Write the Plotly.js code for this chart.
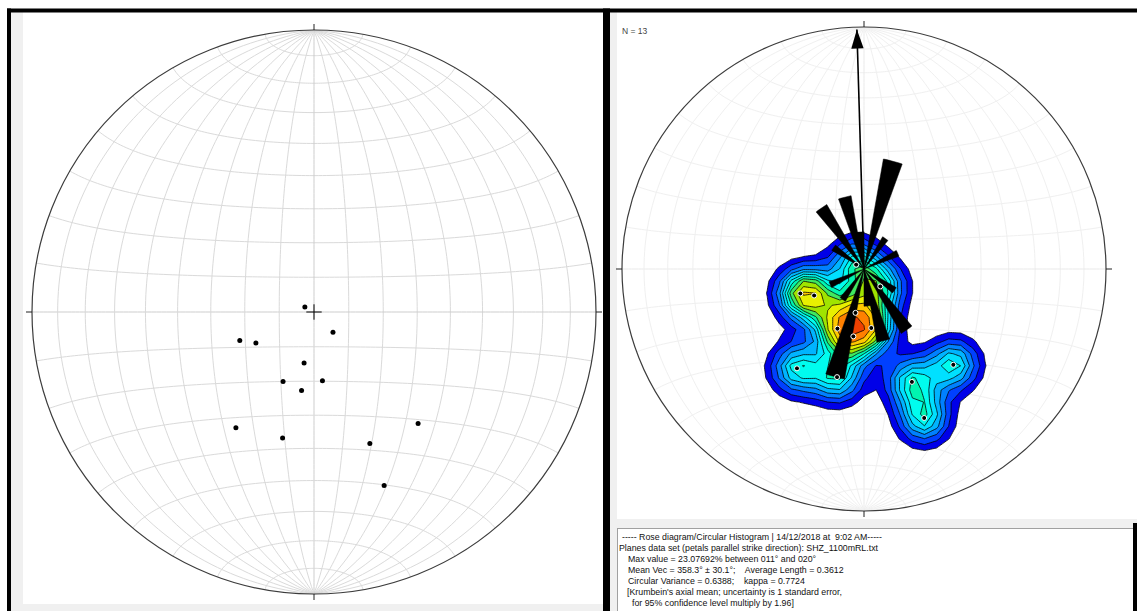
<!DOCTYPE html>
<html><head><meta charset="utf-8">
<script src="https://cdn.plot.ly/plotly-3.0.1.min.js"></script>
<style>html,body{margin:0;padding:0;background:#fff;overflow:hidden}#chart{width:1137px;height:611px}</style>
</head><body><div id="chart"></div>
<script>
// ---------------- data ----------------
// poles to planes (trend, plunge in degrees), lower hemisphere
const poleTrend  = [299, 137, 249, 242, 191, 204, 173, 189, 214, 194, 137, 157, 158];
const polePlunge = [ 87,  82,  67,  71,  75,  68,  70,  67,  49,  52,  45,  48,  34];
// rose diagram (axial, 10 degree bins; each bin mirrored at +180)
const roseBinStart = [10, 30, 60, 120, 140, 160, 170];
const roseCount    = [ 3,  1,  1,   1,   2,   2,   1];
const roseBinWidth = 10;
const roseOuterPct = 50;          // primitive circle = 50 %
const meanVecAzimuth = 358.3;
const nData = 13;
// density contour levels (kernel-sum units)
const densityLevels = [0.16, 0.32, 0.48, 0.64, 0.78, 0.92, 1.04, 1.18, 1.34, 1.52, 1.75, 2.10, 2.50];
const infoLines = [
  "----- Rose diagram/Circular Histogram | 14/12/2018 at \u00a09:02 AM-----",
  "Planes data set (petals parallel strike direction): SHZ_1100mRL.txt",
  "Max value = 23.07692% between 011\u00b0 and 020\u00b0",
  "Mean Vec = 358.3\u00b0 \u00b1 30.1\u00b0;\u00a0\u00a0\u00a0 Average Length = 0.3612",
  "Circular Variance = 0.6388;\u00a0\u00a0\u00a0 kappa = 0.7724",
  "[Krumbein's axial mean; uncertainty is 1 standard error,",
  "for 95% confidence level multiply by 1.96]"
];

// ---------------- geometry helpers ----------------
const W = 1137, H = 611;
const D2R = Math.PI / 180;
function projVec(e, n, d) { const k = 1 / Math.sqrt(1 + d); return [e * k, n * k]; } // equal-area, lower hemisphere
function projLine(tr, pl) {
  const t = tr * D2R, p = pl * D2R;
  return projVec(Math.sin(t) * Math.cos(p), Math.cos(t) * Math.cos(p), Math.sin(p));
}
function netCurves() {
  const out = [], N = 120;
  for (let a = 10; a < 180; a += 10) {
    const ca = Math.cos(a * D2R), sa = Math.sin(a * D2R);
    const gc = [], sc = [];
    for (let i = 0; i <= N; i++) {
      const t = Math.PI * i / N, ct = Math.cos(t), st = Math.sin(t);
      gc.push(projVec(st * ca, ct, st * sa));
      sc.push(projVec(sa * ct, ca, sa * st));
    }
    out.push({ pts: gc, main: a === 90 }, { pts: sc, main: a === 90 });
  }
  return out;
}
function pathOf(pts) { return 'M' + pts.map(p => p[0].toFixed(5) + ',' + p[1].toFixed(5)).join('L'); }

// panel geometry (pixel centre and radius of each primitive circle)
const L = { cx: 314, cy: 312, R: 282 };
const Rt = { cx: 864, cy: 269, R: 242 };
function rangesFor(p) {
  return { x: [(0 - p.cx) / p.R, (W - p.cx) / p.R], y: [(p.cy - H) / p.R, p.cy / p.R] };
}
const rl = rangesFor(L), rr = rangesFor(Rt);

const shapes = [];
const curves = netCurves();
curves.forEach(c => {
  shapes.push({ type: 'path', xref: 'x', yref: 'y', path: pathOf(c.pts), layer: 'below',
    line: { color: c.main ? '#cdcdcd' : '#dadada', width: 1 } });
  shapes.push({ type: 'path', xref: 'x2', yref: 'y2', path: pathOf(c.pts), layer: 'below',
    line: { color: c.main ? '#e9e9e9' : '#f0f0f0', width: 1 } });
});
[['x', 'y', L], ['x2', 'y2', Rt]].forEach(([xr, yr, p]) => {
  shapes.push({ type: 'circle', xref: xr, yref: yr, x0: -1, x1: 1, y0: -1, y1: 1,
    line: { color: '#3c3c3c', width: 1.2 } });
  const tl = 6 / p.R;
  [[0, 1], [1, 0], [0, -1], [-1, 0]].forEach(([dx, dy]) => {
    shapes.push({ type: 'line', xref: xr, yref: yr, x0: dx, y0: dy, x1: dx * (1 + tl), y1: dy * (1 + tl),
      line: { color: '#222', width: 1 } });
  });
});
// window frame
function rectPx(x0, y0, x1, y1, color, layer) {
  shapes.push({ type: 'rect', xref: 'paper', yref: 'paper', x0: x0 / W, x1: x1 / W, y0: 1 - y1 / H, y1: 1 - y0 / H,
    fillcolor: color, line: { width: 0 }, layer: layer || 'above' });
}
rectPx(11, 12, 23, 611, '#f0f0f0', 'below');
rectPx(11, 604, 603, 611, '#f0f0f0', 'below');
rectPx(610, 12, 617, 611, '#f0f0f0', 'below');
rectPx(617, 519, 1137, 528, '#f0f0f0', 'below');
rectPx(617, 528, 1133, 611, '#ffffff', 'above');
rectPx(617, 528, 1133, 529, '#a0a0a0', 'above');
rectPx(617, 528, 618, 611, '#a0a0a0', 'above');
rectPx(7, 8.5, 1137, 12.5, '#000000', 'above');
rectPx(7, 8.5, 11, 611, '#000000', 'above');
rectPx(603, 8.5, 610, 611, '#000000', 'above');
rectPx(1133, 523, 1137, 611, '#000000', 'above');

// ---------------- traces ----------------
const P = poleTrend.map((t, i) => projLine(t, polePlunge[i]));
const px = P.map(p => p[0]), py = P.map(p => p[1]);

// density grid (gaussian kernel in the projection plane), mapped to level index
const sig = 17 / Rt.R, nG = 41;
function levelIndex(s) {
  const lv = densityLevels;
  if (s <= lv[0]) return -1.5 + 1.5 * s / lv[0];
  for (let k = 1; k < lv.length; k++) {
    if (s <= lv[k]) return (k - 1) + (s - lv[k - 1]) / (lv[k] - lv[k - 1]);
  }
  const n = lv.length;
  return (n - 1) + (s - lv[n - 1]) / (lv[n - 1] - lv[n - 2]);
}
const gx = [], gy = [];
for (let i = 0; i < nG; i++) { gx.push(-1 + 2 * i / (nG - 1)); gy.push(-1 + 2 * i / (nG - 1)); }
const z = gy.map(yv => gx.map(xv => {
  let s = 0;
  for (let k = 0; k < P.length; k++) {
    const d2 = (xv - px[k]) ** 2 + (yv - py[k]) ** 2;
    s += Math.exp(-d2 / (2 * sig * sig));
  }
  return levelIndex(s);
}));
const bandColors = ['rgba(255,255,255,0)', '#0000e8', '#0040ff', '#0080ff', '#00b4ff', '#00e0ff', '#00fcee',
  '#00f5b0', '#40e860', '#a0e400', '#e8f000', '#ffc800', '#ff8000', '#f04000'];
const nc = bandColors.length - 1;
const cscale = [];
bandColors.forEach((c, j) => {
  cscale.push([Math.max(0, (j - 0.5) / nc), c], [Math.min(1, (j + 0.5) / nc), c]);
});

// rose petals
const rx = [], ry = [];
roseBinStart.forEach((b, i) => {
  const r = (roseCount[i] / nData * 100) / roseOuterPct;
  [0, 180].forEach(off => {
    rx.push(0); ry.push(0);
    for (let k = 0; k <= 6; k++) {
      const a = (b + off + roseBinWidth * k / 6) * D2R;
      rx.push(r * Math.sin(a)); ry.push(r * Math.cos(a));
    }
    rx.push(0); ry.push(0); rx.push(null); ry.push(null);
  });
});
const tip = [0.99 * Math.sin(meanVecAzimuth * D2R), 0.99 * Math.cos(meanVecAzimuth * D2R)];

const data = [
  { type: 'scatter', mode: 'markers', x: px, y: py, xaxis: 'x', yaxis: 'y', hoverinfo: 'skip',
    marker: { color: '#000', size: 5 } },
  { type: 'scatter', mode: 'markers', x: [0], y: [0], xaxis: 'x', yaxis: 'y', hoverinfo: 'skip',
    marker: { symbol: 'cross-thin', size: 11, line: { color: '#000', width: 1 } } },
  { type: 'contour', x: gx, y: gy, z: z, xaxis: 'x2', yaxis: 'y2', autocontour: false, hoverinfo: 'skip',
    contours: { start: 0, end: nc - 1, size: 1, coloring: 'fill', showlines: true },
    line: { color: '#000', width: 0.8, smoothing: 0 }, colorscale: cscale, showscale: false },
  { type: 'scatter', mode: 'lines', x: rx, y: ry, xaxis: 'x2', yaxis: 'y2', fill: 'toself', fillcolor: '#000',
    line: { color: '#000', width: 0.5 }, hoverinfo: 'skip' },
  { type: 'scatter', mode: 'lines', x: [0, tip[0]], y: [0, tip[1]], xaxis: 'x2', yaxis: 'y2',
    line: { color: '#000', width: 1.6 }, hoverinfo: 'skip' },
  { type: 'scatter', mode: 'markers', x: [tip[0]], y: [tip[1]], xaxis: 'x2', yaxis: 'y2', hoverinfo: 'skip',
    marker: { symbol: 'arrow', size: 20, angle: meanVecAzimuth, color: '#000', line: { width: 0 } } },
  { type: 'scatter', mode: 'markers', x: px, y: py, xaxis: 'x2', yaxis: 'y2', hoverinfo: 'skip',
    marker: { color: '#000', size: 5, line: { color: '#fff', width: 1 } } }
];

// ---------------- text ----------------
const infoX = [620, 617, 626, 626, 626, 625, 630];
const infoY = [537, 547.5, 558.5, 569.5, 580.5, 591.5, 603];
const annotations = infoLines.map((t, i) => ({
  text: t, xref: 'paper', yref: 'paper', x: infoX[i] / W, y: 1 - infoY[i] / H,
  xanchor: 'left', yanchor: 'middle', showarrow: false,
  font: { family: 'Liberation Sans, Arial, sans-serif', size: 8.8, color: '#111' }
}));
annotations.push({ text: 'N = ' + nData, xref: 'paper', yref: 'paper', x: 620 / W, y: 1 - 31 / H,
  xanchor: 'left', yanchor: 'middle', showarrow: false,
  font: { family: 'Liberation Sans, Arial, sans-serif', size: 8.5, color: '#444' } });

const ax = (r, extra) => Object.assign({ range: r, visible: false, fixedrange: true, domain: [0, 1] }, extra || {});
const layout = {
  width: W, height: H, margin: { l: 0, r: 0, t: 0, b: 0, pad: 0 },
  paper_bgcolor: '#fff', plot_bgcolor: 'rgba(0,0,0,0)', showlegend: false, hovermode: false,
  xaxis: ax(rl.x), yaxis: ax(rl.y),
  xaxis2: ax(rr.x, { anchor: 'y2' }), yaxis2: ax(rr.y, { anchor: 'x2' }),
  shapes: shapes, annotations: annotations
};
Plotly.newPlot('chart', data, layout, { staticPlot: true, displayModeBar: false });
</script></body></html>
